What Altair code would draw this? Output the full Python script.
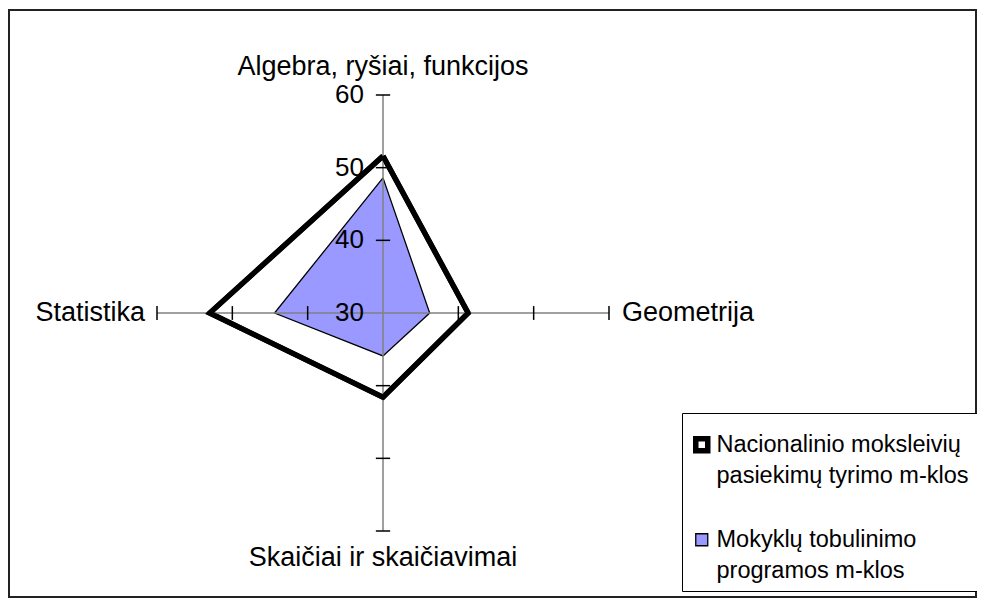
import math
import altair as alt
import pandas as pd

# ---------------- data ----------------
categories = ["Algebra, ryšiai, funkcijos", "Geometrija", "Skaičiai ir skaičiavimai", "Statistika"]
series_names = ["Nacionalinio moksleivių\npasiekimų tyrimo m-klos",
                "Mokyklų tobulinimo\nprogramos m-klos"]
national = [51.6, 41.3, 41.6, 53.0]
school = [48.6, 36.2, 35.9, 44.4]
tick_values = [30, 40, 50, 60]
r_min, r_max = 30, 60

FONT = "Liberation Sans"
W, H = 452, 436
PAD_L, PAD_T = 149, 87

# polygon rows (closed)
rows = []
for name, vals in zip(series_names, [national, school]):
    for k in range(len(categories) + 1):
        i = k % len(categories)
        rows.append({"series": name, "order": k, "idx": i, "value": vals[i]})
poly_df = pd.DataFrame(rows)

axis_df = pd.DataFrame({"idx": list(range(len(categories))), "label": categories})
tick_df = pd.DataFrame([{"idx": i, "v": v} for i in range(len(categories)) for v in tick_values[1:]])
ticklab_df = pd.DataFrame({"v": tick_values})

n = len(categories)
ang = f"datum.idx * 2 * PI / {n}"

xs = alt.Scale(domain=[-(r_max - r_min), r_max - r_min], nice=False, zero=False)
ys = alt.Scale(domain=[-(r_max - r_min), r_max - r_min], nice=False, zero=False)

def X(f):
    return alt.X(f, type="quantitative", scale=xs, axis=None)

def Y(f):
    return alt.Y(f, type="quantitative", scale=ys, axis=None)

poly_base = alt.Chart(poly_df).transform_calculate(
    ang=ang
).transform_calculate(
    px=f"(datum.value - {r_min}) * sin(datum.ang)",
    py=f"(datum.value - {r_min}) * cos(datum.ang)",
)

legend = alt.Legend(
    orient="none", legendX=525, legendY=318, title=None,
    symbolType="M-1,1L1,1L1,3L-1,3Z", symbolSize=144,
    labelFont=FONT, labelFontSize=23.5, labelColor="black", labelLimit=400,
    labelExpr="split(datum.label, '\\n')", labelBaseline="top",
    labelOffset=3, rowPadding=28, padding=8,
    strokeColor="black", fillColor="white",
)

polys = poly_base.mark_line().encode(
    x=X("px"), y=Y("py"),
    order=alt.Order("order:Q"),
    fill=alt.Fill("series:N", scale=alt.Scale(domain=series_names, range=["white", "#9999FF"]), legend=legend),
    stroke=alt.Stroke("series:N", scale=alt.Scale(domain=series_names, range=["black", "black"]), legend=legend),
    strokeWidth=alt.StrokeWidth("series:N", scale=alt.Scale(domain=series_names, range=[5.5, 1.3]), legend=legend),
)

outline = poly_base.transform_filter(
    alt.datum.series == series_names[0]
).mark_line(stroke="black", strokeWidth=5, strokeJoin="miter").encode(
    x=X("px"), y=Y("py"), order=alt.Order("order:Q"),
)

axes = alt.Chart(axis_df).transform_calculate(
    ang=ang
).transform_calculate(
    x0="0", y0="0",
    x1=f"{r_max - r_min} * sin(datum.ang)",
    y1=f"{r_max - r_min} * cos(datum.ang)",
).mark_rule(color="#808080", strokeWidth=1.5).encode(
    x=X("x0"), y=Y("y0"), x2="x1:Q", y2="y1:Q",
)

ticks = alt.Chart(tick_df).transform_calculate(
    ang=ang
).transform_calculate(
    px=f"(datum.v - {r_min}) * sin(datum.ang)",
    py=f"(datum.v - {r_min}) * cos(datum.ang)",
).transform_calculate(
    tx1="datum.px - 0.95 * cos(datum.ang)",
    tx2="datum.px + 0.95 * cos(datum.ang)",
    ty1="datum.py + 0.95 * sin(datum.ang)",
    ty2="datum.py - 0.95 * sin(datum.ang)",
).mark_rule(color="black", strokeWidth=1.5).encode(
    x=X("tx1"), y=Y("ty1"), x2="tx2:Q", y2="ty2:Q",
)

tick_labels = alt.Chart(ticklab_df).transform_calculate(
    x0="0", py=f"datum.v - {r_min}"
).mark_text(font=FONT, fontSize=26, align="right", baseline="middle", dx=-19, color="black").encode(
    x=X("x0"), y=Y("py"), text="v:Q",
)

label_styles = [
    dict(align="center", baseline="alphabetic", dx=0, dy=-20),
    dict(align="left", baseline="middle", dx=13, dy=0),
    dict(align="center", baseline="alphabetic", dx=0, dy=35),
    dict(align="right", baseline="middle", dx=-12, dy=0),
]
cat_layers = []
for i, st in enumerate(label_styles):
    cat_layers.append(
        alt.Chart(axis_df).transform_filter(alt.datum.idx == i).transform_calculate(
            ang=ang
        ).transform_calculate(
            lx=f"{r_max - r_min} * sin(datum.ang)",
            ly=f"{r_max - r_min} * cos(datum.ang)",
        ).mark_text(font=FONT, fontSize=27, color="black", **st).encode(
            x=X("lx"), y=Y("ly"), text="label:N",
        )
    )

frame = alt.Chart(pd.DataFrame({"a": [0]})).mark_rect(
    fill=None, stroke="#222222", strokeWidth=2
).encode(
    x=alt.value(-PAD_L + 1), x2=alt.value(819), y=alt.value(-85), y2=alt.value(502),
)

chart = alt.layer(
    frame, polys, axes, ticks, tick_labels, outline, *cat_layers
).properties(
    width=W, height=H,
    autosize=alt.AutoSizeParams(type="none"),
    padding={"left": PAD_L, "top": PAD_T, "right": 969 - PAD_L - W, "bottom": 590 - PAD_T - H},
    background="white",
).configure(
    style={"guide-label": {"lineHeight": 31}},
    view=alt.ViewConfig(stroke=None),
)

chart.save("out.html", embed_options={"renderer": "svg", "actions": False})
